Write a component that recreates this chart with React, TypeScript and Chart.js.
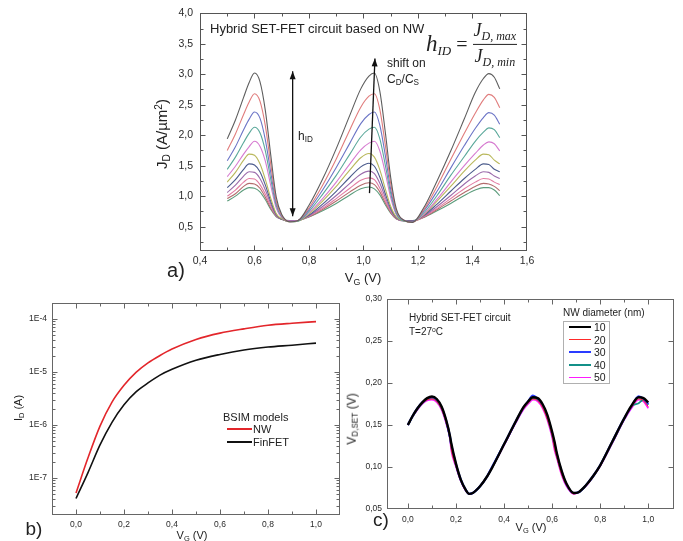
import React, { useEffect, useRef } from 'react';
import { Chart, registerables } from 'chart.js';
Chart.register(...registerables);

// ---------- Panel a: J_D vs V_G (11 curves) ----------
const X_A = [0.50, 0.53, 0.56, 0.58, 0.60, 0.62, 0.64, 0.66, 0.68, 0.70, 0.73, 0.76, 0.80, 0.85, 0.90, 0.95, 0.99, 1.02, 1.04, 1.06, 1.08, 1.10, 1.12, 1.15, 1.18, 1.22, 1.27, 1.32, 1.37, 1.41, 1.44, 1.46, 1.48, 1.50];
const JD_1 = [1.94, 2.25, 2.62, 2.86, 3.02, 2.88, 2.40, 1.66, 0.98, 0.70, 0.58, 0.60, 0.85, 1.28, 1.78, 2.33, 2.76, 2.97, 3.02, 2.72, 2.05, 1.30, 0.80, 0.60, 0.57, 0.80, 1.25, 1.74, 2.27, 2.70, 2.93, 3.01, 2.95, 2.76];
const JD_2 = [1.75, 2.02, 2.34, 2.54, 2.68, 2.56, 2.15, 1.51, 0.92, 0.68, 0.58, 0.60, 0.81, 1.18, 1.61, 2.09, 2.46, 2.64, 2.68, 2.42, 1.84, 1.20, 0.77, 0.60, 0.57, 0.77, 1.16, 1.60, 2.03, 2.36, 2.58, 2.67, 2.62, 2.45];
const JD_3 = [1.58, 1.81, 2.09, 2.26, 2.38, 2.28, 1.92, 1.38, 0.88, 0.67, 0.58, 0.60, 0.78, 1.10, 1.47, 1.87, 2.19, 2.34, 2.38, 2.16, 1.67, 1.11, 0.75, 0.60, 0.58, 0.75, 1.08, 1.46, 1.83, 2.11, 2.29, 2.37, 2.33, 2.18];
const JD_4 = [1.44, 1.64, 1.88, 2.03, 2.13, 2.04, 1.74, 1.27, 0.84, 0.66, 0.58, 0.59, 0.75, 1.03, 1.34, 1.69, 1.97, 2.10, 2.13, 1.94, 1.51, 1.04, 0.72, 0.59, 0.58, 0.72, 1.01, 1.34, 1.65, 1.90, 2.05, 2.12, 2.09, 1.96];
const JD_5 = [1.32, 1.49, 1.69, 1.81, 1.90, 1.82, 1.57, 1.17, 0.80, 0.65, 0.59, 0.60, 0.73, 0.96, 1.23, 1.53, 1.76, 1.87, 1.90, 1.74, 1.38, 0.97, 0.70, 0.60, 0.58, 0.70, 0.95, 1.23, 1.50, 1.70, 1.84, 1.89, 1.86, 1.74];
const JD_6 = [1.23, 1.39, 1.59, 1.69, 1.67, 1.53, 1.27, 0.96, 0.71, 0.63, 0.58, 0.59, 0.71, 0.92, 1.16, 1.43, 1.63, 1.70, 1.64, 1.43, 1.12, 0.83, 0.66, 0.59, 0.58, 0.69, 0.92, 1.16, 1.41, 1.59, 1.69, 1.68, 1.59, 1.53];
const JD_7 = [1.14, 1.27, 1.44, 1.53, 1.51, 1.40, 1.18, 0.91, 0.70, 0.62, 0.59, 0.60, 0.69, 0.87, 1.08, 1.31, 1.48, 1.54, 1.49, 1.31, 1.04, 0.80, 0.65, 0.60, 0.59, 0.68, 0.87, 1.08, 1.29, 1.44, 1.53, 1.52, 1.44, 1.40];
const JD_8 = [1.06, 1.18, 1.33, 1.40, 1.39, 1.29, 1.10, 0.87, 0.68, 0.62, 0.59, 0.60, 0.68, 0.83, 1.01, 1.21, 1.36, 1.41, 1.37, 1.21, 0.98, 0.77, 0.64, 0.59, 0.59, 0.67, 0.83, 1.01, 1.20, 1.33, 1.40, 1.39, 1.33, 1.29];
const JD_9 = [1.00, 1.10, 1.23, 1.29, 1.28, 1.19, 1.03, 0.83, 0.68, 0.62, 0.59, 0.60, 0.67, 0.80, 0.96, 1.13, 1.26, 1.30, 1.27, 1.13, 0.93, 0.75, 0.64, 0.60, 0.59, 0.66, 0.80, 0.96, 1.12, 1.23, 1.29, 1.28, 1.23, 1.19];
const JD_10 = [0.96, 1.04, 1.16, 1.21, 1.20, 1.13, 0.98, 0.80, 0.67, 0.62, 0.59, 0.60, 0.66, 0.78, 0.92, 1.07, 1.18, 1.22, 1.19, 1.07, 0.89, 0.73, 0.63, 0.60, 0.59, 0.65, 0.78, 0.92, 1.06, 1.16, 1.21, 1.20, 1.16, 1.09];
const JD_11 = [0.92, 1.00, 1.10, 1.14, 1.13, 1.07, 0.94, 0.78, 0.66, 0.62, 0.60, 0.60, 0.66, 0.76, 0.88, 1.02, 1.12, 1.15, 1.12, 1.02, 0.86, 0.72, 0.63, 0.60, 0.60, 0.65, 0.76, 0.88, 1.01, 1.10, 1.14, 1.14, 1.10, 1.01];
const A_SERIES = [JD_1, JD_2, JD_3, JD_4, JD_5, JD_6, JD_7, JD_8, JD_9, JD_10, JD_11];
const A_COLORS = ['#5e5e5e', '#e07c7c', '#6b74c6', '#5aa89a', '#d67ad0', '#b9b85c', '#4b5b8c', '#9b6bab', '#e37ca2', '#b36c6c', '#5c9c7c'];
const A_X_TICKS = [0.4, 0.6, 0.8, 1.0, 1.2, 1.4, 1.6];
const A_X_MINOR = [0.5, 0.7, 0.9, 1.1, 1.3, 1.5];
const A_Y_TICKS = [0.5, 1.0, 1.5, 2.0, 2.5, 3.0, 3.5, 4.0];
const A_Y_MINOR = [0.25, 0.75, 1.25, 1.75, 2.25, 2.75, 3.25, 3.75];

// ---------- Panel b: I_D vs V_G (log) ----------
const X_B = [0, 0.05, 0.1, 0.15, 0.2, 0.25, 0.3, 0.35, 0.4, 0.5, 0.6, 0.7, 0.8, 0.9, 1.0];
const ID_NW = [5.2e-8, 2.4e-7, 9.5e-7, 2.7e-6, 5.6e-6, 9.8e-6, 1.48e-5, 2.04e-5, 2.7e-5, 4.1e-5, 5.4e-5, 6.5e-5, 7.6e-5, 8.3e-5, 8.9e-5];
const ID_FINFET = [4.1e-8, 1.26e-7, 4.2e-7, 1.12e-6, 2.4e-6, 4.2e-6, 6.2e-6, 8.7e-6, 1.12e-5, 1.66e-5, 2.14e-5, 2.6e-5, 2.95e-5, 3.2e-5, 3.5e-5];
const B_X_TICKS = [0, 0.2, 0.4, 0.6, 0.8, 1.0];
const B_X_MINOR = [0.1, 0.3, 0.5, 0.7, 0.9];
const B_Y_TICKS = [1e-7, 1e-6, 1e-5, 1e-4];
const B_Y_MINOR = [3e-8, 4e-8, 5e-8, 6e-8, 7e-8, 8e-8, 9e-8, 2e-7, 3e-7, 4e-7, 5e-7, 6e-7, 7e-7, 8e-7, 9e-7, 2e-6, 3e-6, 4e-6, 5e-6, 6e-6, 7e-6, 8e-6, 9e-6, 2e-5, 3e-5, 4e-5, 5e-5, 6e-5, 7e-5, 8e-5, 9e-5];

// ---------- Panel c: V_D,SET vs V_G ----------
const X_C = [0, 0.02, 0.04, 0.06, 0.08, 0.10, 0.12, 0.14, 0.16, 0.175, 0.18, 0.20, 0.22, 0.24, 0.255, 0.27, 0.30, 0.33, 0.35, 0.40, 0.45, 0.48, 0.50, 0.52, 0.54, 0.56, 0.58, 0.60, 0.61, 0.62, 0.64, 0.66, 0.69, 0.71, 0.74, 0.77, 0.80, 0.85, 0.90, 0.93, 0.96, 0.98, 1.00];
const VD_10 = [0.150, 0.161, 0.170, 0.177, 0.182, 0.184, 0.181, 0.172, 0.155, 0.137, 0.129, 0.104, 0.085, 0.073, 0.068, 0.069, 0.077, 0.089, 0.099, 0.127, 0.155, 0.171, 0.178, 0.183, 0.182, 0.175, 0.162, 0.142, 0.130, 0.116, 0.095, 0.080, 0.069, 0.070, 0.078, 0.089, 0.102, 0.130, 0.158, 0.173, 0.183, 0.182, 0.177];
const VD_20 = [0.150, 0.160, 0.169, 0.176, 0.180, 0.181, 0.178, 0.169, 0.152, 0.134, 0.122, 0.101, 0.084, 0.072, 0.068, 0.069, 0.077, 0.089, 0.099, 0.126, 0.154, 0.169, 0.176, 0.181, 0.179, 0.171, 0.157, 0.137, 0.122, 0.111, 0.091, 0.078, 0.068, 0.070, 0.077, 0.088, 0.101, 0.129, 0.157, 0.171, 0.181, 0.179, 0.172];
const VD_30 = [0.150, 0.161, 0.170, 0.177, 0.181, 0.183, 0.180, 0.171, 0.154, 0.136, 0.127, 0.103, 0.085, 0.073, 0.068, 0.069, 0.077, 0.089, 0.100, 0.127, 0.155, 0.170, 0.178, 0.185, 0.181, 0.174, 0.160, 0.140, 0.127, 0.114, 0.094, 0.079, 0.069, 0.070, 0.078, 0.089, 0.102, 0.130, 0.158, 0.172, 0.184, 0.181, 0.175];
const VD_40 = [0.150, 0.160, 0.169, 0.176, 0.181, 0.182, 0.179, 0.170, 0.153, 0.135, 0.125, 0.102, 0.084, 0.073, 0.068, 0.069, 0.077, 0.089, 0.099, 0.127, 0.154, 0.170, 0.177, 0.182, 0.180, 0.173, 0.159, 0.139, 0.125, 0.113, 0.093, 0.079, 0.069, 0.070, 0.078, 0.088, 0.102, 0.129, 0.157, 0.172, 0.176, 0.180, 0.174];
const VD_50 = [0.150, 0.160, 0.168, 0.175, 0.179, 0.180, 0.177, 0.168, 0.151, 0.133, 0.120, 0.100, 0.083, 0.072, 0.068, 0.069, 0.077, 0.089, 0.099, 0.126, 0.153, 0.168, 0.175, 0.180, 0.178, 0.170, 0.156, 0.135, 0.120, 0.110, 0.090, 0.077, 0.068, 0.070, 0.077, 0.088, 0.101, 0.128, 0.156, 0.170, 0.180, 0.178, 0.170];
const C_LABELS = ['10', '20', '30', '40', '50'];
const C_SERIES = [VD_10, VD_20, VD_30, VD_40, VD_50];
const C_COLORS = ['#000000', '#ff2a2a', '#2a3cff', '#139088', '#ff1aff'];
const C_WIDTHS = [2.4, 1, 2.2, 1.8, 1.6];
const C_X_TICKS = [0, 0.2, 0.4, 0.6, 0.8, 1.0];
const C_X_MINOR = [0.1, 0.3, 0.5, 0.7, 0.9];
const C_Y_TICKS = [0.05, 0.10, 0.15, 0.20, 0.25, 0.30];

const SANS = '"Liberation Sans", Arial, sans-serif';
const SERIF = '"Liberation Serif", "DejaVu Serif", serif';

const comma = (d: number) => (v: any) => Number(v).toFixed(d).replace('.', ',');

type FrameCfg = { xMajor: number[]; xMinor: number[]; yMajor: number[]; yMinor: number[]; color: string };
function framePlugin(cfg: FrameCfg) {
  return {
    id: 'frame',
    afterDraw(chart: any) {
      const { ctx, chartArea: a, scales } = chart;
      const xs = scales.x, ys = scales.y;
      const L = Math.round(a.left) + 0.5, R = Math.round(a.right) - 0.5;
      const T = Math.round(a.top) + 0.5, B = Math.round(a.bottom) - 0.5;
      ctx.save();
      ctx.strokeStyle = cfg.color;
      ctx.lineWidth = 1;
      ctx.strokeRect(L, T, R - L, B - T);
      ctx.beginPath();
      const xt = (v: number, len: number) => {
        const p = Math.round(xs.getPixelForValue(v)) + 0.5;
        if (p <= L + 1 || p >= R - 1) return;
        ctx.moveTo(p, B); ctx.lineTo(p, B - len);
        ctx.moveTo(p, T); ctx.lineTo(p, T + len);
      };
      const yt = (v: number, len: number) => {
        const p = Math.round(ys.getPixelForValue(v)) + 0.5;
        if (p <= T + 1 || p >= B - 1) return;
        ctx.moveTo(L, p); ctx.lineTo(L + len, p);
        ctx.moveTo(R, p); ctx.lineTo(R - len, p);
      };
      cfg.xMajor.forEach((v) => xt(v, 5));
      cfg.xMinor.forEach((v) => xt(v, 3));
      cfg.yMajor.forEach((v) => yt(v, 5));
      cfg.yMinor.forEach((v) => yt(v, 3));
      ctx.stroke();
      ctx.restore();
    },
  };
}

type Arrow = { from: [number, number]; to: [number, number]; both: boolean };
function arrowPlugin(items: Arrow[]) {
  return {
    id: 'arrows',
    afterDatasetsDraw(chart: any) {
      const { ctx, scales } = chart;
      const xs = scales.x, ys = scales.y;
      ctx.save();
      ctx.strokeStyle = '#111';
      ctx.fillStyle = '#111';
      ctx.lineWidth = 1.3;
      const head = (x: number, y: number, ang: number) => {
        const l = 8, w = 3;
        ctx.beginPath();
        ctx.moveTo(x, y);
        ctx.lineTo(x - l * Math.cos(ang) + w * Math.sin(ang), y - l * Math.sin(ang) - w * Math.cos(ang));
        ctx.lineTo(x - l * Math.cos(ang) - w * Math.sin(ang), y - l * Math.sin(ang) + w * Math.cos(ang));
        ctx.closePath();
        ctx.fill();
      };
      items.forEach((it) => {
        const x1 = xs.getPixelForValue(it.from[0]), y1 = ys.getPixelForValue(it.from[1]);
        const x2 = xs.getPixelForValue(it.to[0]), y2 = ys.getPixelForValue(it.to[1]);
        ctx.beginPath();
        ctx.moveTo(x1, y1);
        ctx.lineTo(x2, y2);
        ctx.stroke();
        const ang = Math.atan2(y2 - y1, x2 - x1);
        head(x2, y2, ang);
        if (it.both) head(x1, y1, ang + Math.PI);
      });
      ctx.restore();
    },
  };
}

function axis(type: string, min: number, max: number, ticks: number[], fmt: (v: any) => string, size: number, pad: number, fit: number, isX: boolean) {
  return {
    type,
    min,
    max,
    grid: { display: false, drawTicks: false },
    border: { display: false },
    afterBuildTicks: (s: any) => {
      s.ticks = ticks.map((v) => ({ value: v }));
    },
    afterFit: (s: any) => {
      if (isX) s.height = fit;
      else s.width = fit;
    },
    ticks: {
      callback: fmt,
      font: { family: SANS, size },
      color: '#2a2a2a',
      padding: pad,
      maxRotation: 0,
      minRotation: 0,
      autoSkip: false,
    },
  };
}

function baseOptions(padding: any, scales: any) {
  return {
    responsive: false,
    animation: false,
    devicePixelRatio: 1,
    events: [],
    layout: { padding },
    plugins: { legend: { display: false }, tooltip: { enabled: false }, title: { display: false } },
    elements: { point: { radius: 0 }, line: { cubicInterpolationMode: 'monotone' } },
    scales,
  };
}

function ChartBox(props: { left: number; top: number; width: number; height: number; build: () => any }) {
  const ref = useRef<HTMLCanvasElement>(null);
  useEffect(() => {
    const chart = new Chart(ref.current as HTMLCanvasElement, props.build());
    return () => chart.destroy();
  }, []);
  return (
    <canvas
      ref={ref}
      width={props.width}
      height={props.height}
      style={{ position: 'absolute', left: props.left, top: props.top, width: props.width, height: props.height, display: 'block' }}
    />
  );
}

const buildA = () => ({
  type: 'line',
  data: {
    datasets: A_SERIES.map((s, k) => ({
      data: X_A.map((x, i) => ({ x, y: s[i] })),
      borderColor: A_COLORS[k],
      borderWidth: 1.1,
      fill: false,
      pointRadius: 0,
    })),
  },
  options: baseOptions(
    { top: 13, right: 18, left: 0, bottom: 0 },
    {
      x: axis('linear', 0.4, 1.6, A_X_TICKS, comma(1), 10.5, 4, 49, true),
      y: axis('linear', 0.1, 4.0, A_Y_TICKS, comma(1), 10.5, 7, 60, false),
    }
  ),
  plugins: [
    framePlugin({ xMajor: A_X_TICKS, xMinor: A_X_MINOR, yMajor: A_Y_TICKS, yMinor: A_Y_MINOR, color: '#555' }),
    arrowPlugin([
      { from: [0.74, 0.67], to: [0.74, 3.05], both: true },
      { from: [1.022, 1.05], to: [1.042, 3.26], both: false },
    ]),
  ],
});

const buildB = () => ({
  type: 'line',
  data: {
    datasets: [
      { data: X_B.map((x, i) => ({ x, y: ID_NW[i] })), borderColor: '#e3262b', borderWidth: 1.6, fill: false, pointRadius: 0 },
      { data: X_B.map((x, i) => ({ x, y: ID_FINFET[i] })), borderColor: '#111', borderWidth: 1.6, fill: false, pointRadius: 0 },
    ],
  },
  options: baseOptions(
    { top: 18, right: 5, left: 0, bottom: 0 },
    {
      x: axis('linear', -0.1, 1.1, B_X_TICKS, comma(1), 8.5, 5, 26, true),
      y: axis('logarithmic', 2e-8, 2e-4, B_Y_TICKS, (v: any) => '1E' + Math.round(Math.log10(Number(v))), 8.5, 5, 52, false),
    }
  ),
  plugins: [framePlugin({ xMajor: B_X_TICKS, xMinor: B_X_MINOR, yMajor: B_Y_TICKS, yMinor: B_Y_MINOR, color: '#666' })],
});

const buildC = () => ({
  type: 'line',
  data: {
    datasets: C_SERIES.map((s, k) => ({
      data: X_C.map((x, i) => ({ x, y: s[i] })),
      borderColor: C_COLORS[k],
      borderWidth: C_WIDTHS[k],
      fill: false,
      pointRadius: 0,
    })),
  },
  options: baseOptions(
    { top: 14, right: 9, left: 0, bottom: 0 },
    {
      x: axis('linear', -0.087, 1.107, C_X_TICKS, comma(1), 8.5, 6, 32, true),
      y: axis('linear', 0.05, 0.30, C_Y_TICKS, comma(2), 8.5, 5, 42, false),
    }
  ),
  plugins: [framePlugin({ xMajor: C_X_TICKS, xMinor: C_X_MINOR, yMajor: C_Y_TICKS, yMinor: [], color: '#666' })],
});

const subS: any = { fontSize: '0.68em', verticalAlign: '-0.3em' };
const supS: any = { fontSize: '0.68em', verticalAlign: '0.45em' };

function Txt(p: { x: number; y: number; size: number; anchor?: string; rot?: boolean; children: any; style?: any }) {
  const tr = p.rot ? 'translate(-50%,-50%) rotate(-90deg)' : p.anchor === 'l' ? 'translateY(-50%)' : 'translate(-50%,-50%)';
  return (
    <div style={{ position: 'absolute', left: p.x, top: p.y, transform: tr, fontSize: p.size, lineHeight: 1, whiteSpace: 'nowrap', color: '#222', ...(p.style || {}) }}>
      {p.children}
    </div>
  );
}

export default function App() {
  return (
    <div style={{ position: 'fixed', left: 0, top: 0, width: 683, height: 541, overflow: 'hidden', background: '#fff', fontFamily: SANS }}>
      {/* Panel a */}
      <ChartBox left={140} top={0} width={405} height={300} build={buildA} />
      <Txt x={163} y={134} size={15} rot>
        J<span style={subS}>D</span> (A/µm<span style={supS}>2</span>)
      </Txt>
      <Txt x={363} y={279} size={13}>
        V<span style={subS}>G</span> (V)
      </Txt>
      <Txt x={176} y={270} size={20}>a)</Txt>
      <Txt x={210} y={28} size={13} anchor="l">Hybrid SET-FET circuit based on NW</Txt>
      <div style={{ position: 'absolute', left: 426, top: 44, transform: 'translateY(-50%)', fontFamily: SERIF, fontStyle: 'italic', color: '#222', display: 'flex', alignItems: 'center', lineHeight: 1, whiteSpace: 'nowrap' }}>
        <span style={{ fontSize: 23 }}>
          h<span style={{ fontSize: 13, verticalAlign: '-0.3em' }}>ID</span>
        </span>
        <span style={{ fontSize: 20, fontStyle: 'normal', margin: '0 5px 0 5px' }}>=</span>
        <span style={{ display: 'inline-flex', flexDirection: 'column', alignItems: 'center', fontSize: 18 }}>
          <span style={{ padding: '0 1px 2px' }}>
            J<span style={{ fontSize: 12, verticalAlign: '-0.3em' }}>D, max</span>
          </span>
          <span style={{ borderTop: '1.2px solid #222', padding: '2px 1px 0', alignSelf: 'stretch', textAlign: 'center' }}>
            J<span style={{ fontSize: 12, verticalAlign: '-0.3em' }}>D, min</span>
          </span>
        </span>
      </div>
      <Txt x={298} y={137} size={12} anchor="l">
        h<span style={subS}>ID</span>
      </Txt>
      <Txt x={387} y={63} size={12} anchor="l">shift on</Txt>
      <Txt x={387} y={80} size={12} anchor="l">
        C<span style={subS}>D</span>/C<span style={subS}>S</span>
      </Txt>

      {/* Panel b */}
      <ChartBox left={0} top={285} width={345} height={256} build={buildB} />
      <Txt x={19} y={408} size={11} rot>
        I<span style={subS}>D</span> (A)
      </Txt>
      <Txt x={192} y={536} size={11}>
        V<span style={subS}>G</span> (V)
      </Txt>
      <Txt x={34} y={528} size={19}>b)</Txt>
      <Txt x={223} y={417} size={11} anchor="l">BSIM models</Txt>
      <div style={{ position: 'absolute', left: 227, top: 428, width: 25, height: 2, background: '#e3262b' }} />
      <Txt x={253} y={429} size={11} anchor="l">NW</Txt>
      <div style={{ position: 'absolute', left: 227, top: 441, width: 25, height: 2, background: '#111' }} />
      <Txt x={253} y={442} size={11} anchor="l">FinFET</Txt>

      {/* Panel c */}
      <ChartBox left={345} top={285} width={338} height={256} build={buildC} />
      <Txt x={353} y={419} size={12} rot>
        V<span style={subS}>D,SET</span> (V)
      </Txt>
      <Txt x={531} y={528} size={11}>
        V<span style={subS}>G</span> (V)
      </Txt>
      <Txt x={381} y={519} size={19}>c)</Txt>
      <Txt x={409} y={318} size={10} anchor="l">Hybrid SET-FET circuit</Txt>
      <Txt x={409} y={332} size={10} anchor="l">
        T=27<span style={supS}>o</span>C
      </Txt>
      <Txt x={563} y={313} size={10} anchor="l">NW diameter (nm)</Txt>
      <div style={{ position: 'absolute', left: 563, top: 321, width: 45, height: 61, border: '1px solid #b0b0b0' }} />
      {C_LABELS.map((lab, k) => (
        <React.Fragment key={lab}>
          <div style={{ position: 'absolute', left: 569, top: 327 + k * 12.6 - C_WIDTHS[k] / 2, width: 22, height: C_WIDTHS[k], background: C_COLORS[k] }} />
          <Txt x={594} y={327 + k * 12.6} size={10.5} anchor="l">{lab}</Txt>
        </React.Fragment>
      ))}
    </div>
  );
}
